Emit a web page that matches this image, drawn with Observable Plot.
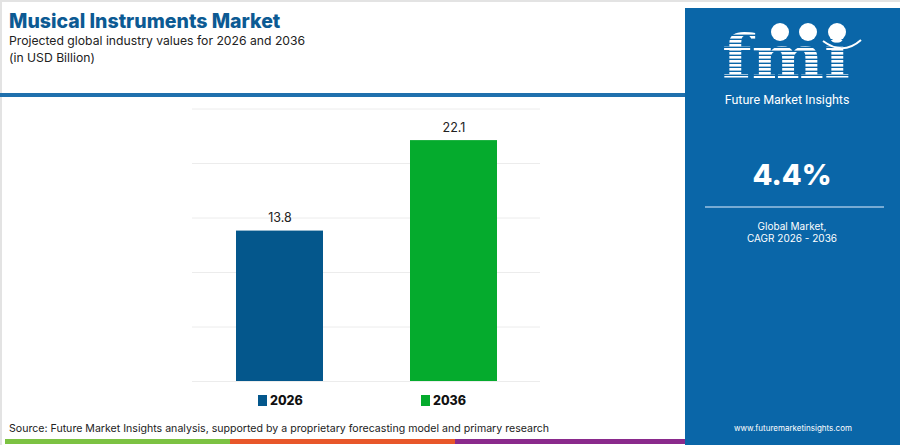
<!DOCTYPE html>
<html>
<head>
<meta charset="utf-8">
<script src="https://cdn.jsdelivr.net/npm/d3@7"></script>
<script src="https://cdn.jsdelivr.net/npm/@observablehq/plot@0.6"></script>
<style>
  html, body { margin:0; padding:0; }
  body { width:900px; height:445px; position:relative; overflow:hidden; background:#fff; font-family:"Inter","Open Sans",sans-serif; }
  .abs { position:absolute; }
  #frame { left:0; top:0; width:898px; height:443px; border-left:2px solid #e3e3e3; border-top:2px solid #e3e3e3; }
  #title { left:9px; top:9px; font-size:19.5px; font-weight:800; color:#0c5a93; }
  #sub { left:9px; top:32px; font-size:12.2px; color:#222; line-height:17px; }
  #rule { left:0; top:93px; width:685px; height:4px; background:#1f70ad; }
  #panel { left:685px; top:8px; width:215px; height:437px; background:#0a66a8; color:#fff; text-align:center; }
  #chart { left:0; top:95px; }
  .leg { top:393px; font-size:12.5px; font-weight:800; color:#111; display:flex; align-items:center; height:14px; }
  .sw { width:9px; height:11px; margin-right:3px; display:inline-block; }
  #src { left:9px; top:422px; font-size:10.6px; color:#222; }
  .stripe { top:439px; height:5px; }
</style>
</head>
<body>
<script>
const categories = ["2026", "2036"];
const values = [13.8, 22.1];
const colors = ["#04578c", "#05ab2d"];
const yTicks = [0, 5, 10, 15, 20, 25];
const cagr = "4.4%";
const data = categories.map((c, i) => ({year: c, value: values[i], color: colors[i]}));

function el(cls, id, html, style) {
  const d = document.createElement("div");
  d.className = "abs " + (cls || "");
  if (id) d.id = id;
  if (html != null) d.innerHTML = html;
  if (style) Object.assign(d.style, style);
  document.body.appendChild(d);
  return d;
}

el("", "frame");
el("", "title", "Musical Instruments Market");
el("", "sub", "Projected global industry values for 2026 and 2036<br>(in USD Billion)");
el("", "rule");

const chart = Plot.plot({
  width: 685,
  height: 310,
  marginLeft: 192,
  marginRight: 145,
  marginTop: 13.5,
  marginBottom: 24,
  x: {domain: categories, paddingInner: 0.5, paddingOuter: 0.25, axis: null},
  y: {domain: [0, 25], axis: null},
  style: {fontFamily: "Inter, 'Open Sans', sans-serif", background: "transparent"},
  marks: [
    Plot.ruleY(yTicks, {stroke: "#ececec", strokeWidth: 1}),
    Plot.barY(data, {x: "year", y: "value", fill: "color"}),
    Plot.text(data, {x: "year", y: "value", text: d => d.value.toFixed(1), dy: -13, fontSize: 12.5, fill: "#222"})
  ]
});
const cw = el("", "chart");
cw.appendChild(chart);

// legend
const legX = [258, 421];
categories.forEach((c, i) => {
  el("leg", null, `<span class="sw" style="background:${colors[i]}"></span>${c}`, {left: legX[i] + "px"});
});

el("", "src", "Source: Future Market Insights analysis, supported by a proprietary forecasting model and primary research");
el("stripe", null, null, {left: "5px", width: "225px", background: "#7cc242"});
el("stripe", null, null, {left: "230px", width: "225px", background: "#e8572a"});
el("stripe", null, null, {left: "455px", width: "230px", background: "#8a2a8c"});

// right panel
const p = el("", "panel");
p.innerHTML = `
<svg width="215" height="437" style="position:absolute;left:0;top:0">
  <defs>
    <pattern id="stp" width="4" height="4" patternUnits="userSpaceOnUse">
      <rect width="4" height="2.6" fill="#fff"/>
    </pattern>
  </defs>
  <text x="37" y="70" font-family="DejaVu Serif" font-weight="bold" font-size="60" fill="url(#stp)" textLength="128" lengthAdjust="spacingAndGlyphs">fmi</text>
  <circle cx="95" cy="24" r="9" fill="#fff"/>
  <circle cx="123" cy="24" r="9" fill="#fff"/>
  <circle cx="152" cy="24" r="9" fill="#fff"/>
  <path d="M138 33 Q158 48 176 32" stroke="#fff" stroke-width="2" fill="none"/>
  <text x="102" y="96" text-anchor="middle" font-family="Roboto, sans-serif" font-size="12.5" fill="#fff">Future Market Insights</text>
  <text x="107" y="177" text-anchor="middle" font-family="Inter, sans-serif" font-weight="800" font-size="29" fill="#fff">${cagr}</text>
  <line x1="20" x2="199" y1="199" y2="199" stroke="#9cc3e3" stroke-width="1.5"/>
  <text x="107" y="222" text-anchor="middle" font-family="Inter, sans-serif" font-size="10" fill="#fff">Global Market,</text>
  <text x="107" y="234" text-anchor="middle" font-family="Inter, sans-serif" font-size="10" fill="#fff">CAGR 2026 - 2036</text>
  <text x="108" y="423" text-anchor="middle" font-family="Inter, sans-serif" font-size="8" fill="#fff">www.futuremarketinsights.com</text>
</svg>`;
</script>
</body>
</html>
